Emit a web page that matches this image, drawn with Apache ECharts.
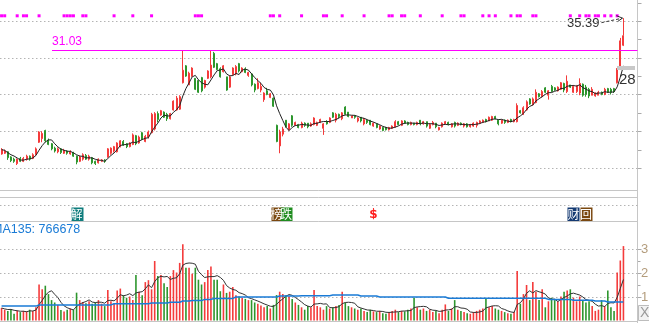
<!DOCTYPE html>
<html><head><meta charset="utf-8">
<script src="https://cdn.jsdelivr.net/npm/echarts@6/dist/echarts.min.js"></script>
<style>html,body{margin:0;padding:0;background:#fff;overflow:hidden}#c{width:649px;height:323px}</style>
</head><body><div id="c"></div>
<script>
// ---- data: [open, close, low, high] per day ----
const ohlc = [
[16.9,17.5,16.8,17.7],[17.0,17.3,16.9,17.5],[17.2,16.4,16.1,17.3],[16.5,16.0,15.8,16.6],[16.2,15.9,15.7,16.4],
[15.6,16.2,15.4,16.3],[16.3,15.9,15.8,16.5],[15.9,16.3,15.8,16.5],[16.2,16.6,16.0,16.8],[16.6,16.2,16.0,16.7],
[16.3,16.8,16.2,17.0],[16.8,17.6,16.7,17.8],[18.5,19.9,18.4,20.0],[19.0,19.7,18.5,20.0],[20.1,18.7,18.5,20.2],
[18.8,18.2,18.1,19.0],[18.3,17.6,17.4,18.4],[17.7,17.3,17.1,17.9],[17.2,17.6,17.0,17.8],[17.6,17.1,16.9,17.7],
[17.0,17.4,16.9,17.6],[17.3,17.0,16.8,17.4],[16.9,17.2,16.8,17.4],[17.1,16.6,16.5,17.2],[16.6,15.8,15.5,16.7],
[15.9,16.5,15.8,16.7],[16.2,16.8,16.0,17.0],[16.7,16.2,16.1,16.9],[16.2,16.6,16.0,16.8],[16.4,15.7,15.5,16.5],
[15.9,15.6,15.4,16.0],[15.7,16.2,15.6,16.3],[15.9,16.1,15.8,16.2],[16.1,15.9,15.7,16.2],[16.5,17.6,16.4,17.7],
[17.0,17.7,16.8,17.8],[17.3,17.9,17.1,18.0],[17.2,18.4,17.1,18.5],[18.0,18.7,17.8,18.8],[18.6,18.1,18.0,18.8],
[18.3,17.9,17.7,18.4],[17.9,18.4,17.8,18.5],[18.2,19.5,18.1,19.7],[19.4,18.3,18.1,19.5],[18.4,19.2,18.3,19.4],
[19.8,18.9,18.8,19.9],[18.6,19.3,18.5,19.5],[19.2,19.9,19.0,20.1],[19.8,22.3,19.7,22.5],[20.3,22.4,20.1,22.6],
[22.4,21.6,21.2,22.7],[22.2,22.8,22.1,22.9],[22.6,21.9,21.8,22.7],[22.3,21.7,21.4,22.5],[21.7,22.4,21.6,22.5],
[22.9,24.1,22.8,24.2],[22.9,24.5,22.8,24.8],[23.0,24.7,22.9,24.9],[26.6,28.3,26.5,31.03],[28.9,27.5,27.4,29.0],
[26.3,27.9,26.3,28.1],[27.5,28.6,27.4,28.7],[27.2,25.7,25.6,27.2],[26.9,25.3,25.2,27.0],[27.3,25.5,25.3,27.4],
[26.0,26.9,25.8,27.0],[27.2,28.2,27.1,28.3],[27.4,29.0,27.2,31.03],[30.6,28.7,28.6,30.8],[29.2,28.4,28.3,29.3],
[28.5,27.4,27.3,28.7],[28.1,28.9,28.0,29.0],[27.4,25.6,25.5,27.4],[26.0,27.4,25.9,27.6],[27.7,28.6,27.6,28.7],
[27.8,28.8,27.6,29.0],[29.2,28.2,28.0,29.3],[28.1,28.6,28.0,28.7],[28.5,28.0,27.9,28.7],[27.6,28.0,27.4,28.1],
[27.8,26.3,26.1,27.9],[26.4,25.6,25.3,26.5],[25.8,26.6,25.7,27.2],[25.6,26.1,25.3,26.6],[24.3,25.2,24.0,25.3],
[25.5,25.0,24.9,25.9],[24.6,25.1,24.5,25.2],[24.5,23.4,23.3,24.6],[20.8,18.6,18.5,20.9],[18.0,19.9,17.0,20.2],
[19.6,20.3,19.3,20.6],[21.5,20.6,20.5,21.5],[20.2,21.0,20.1,21.1],[22.1,20.8,20.6,22.2],[20.8,21.2,20.7,21.3],
[20.9,20.5,20.4,21.0],[20.5,21.1,20.4,21.3],[21.1,20.8,20.6,21.2],[21.1,20.6,20.4,21.1],[20.7,21.0,20.6,21.2],
[20.9,21.8,20.8,21.9],[20.8,21.2,20.7,21.3],[21.2,21.6,21.1,21.7],[20.4,21.0,19.5,21.1],[21.3,21.0,20.9,21.5],
[21.2,21.8,21.1,21.9],[22.5,21.9,21.8,22.6],[21.5,22.3,21.2,22.5],[22.3,22.0,21.8,22.4],[21.7,22.5,21.5,22.6],
[23.3,22.3,22.2,23.4],[22.6,22.0,21.9,22.6],[21.8,22.1,21.8,22.1],[22.1,21.9,21.7,22.2],[21.4,21.8,21.2,21.9],
[21.9,21.4,21.2,21.9],[21.0,21.6,20.8,21.8],[21.5,21.2,21.0,21.6],[21.5,20.9,20.8,21.5],[20.7,21.1,20.6,21.2],
[21.0,20.5,20.4,21.1],[20.3,20.7,20.2,20.8],[20.5,20.1,20.0,20.6],[20.5,20.2,20.1,20.6],[20.2,20.5,20.1,20.6],
[20.4,20.7,20.3,20.8],[20.6,21.3,20.5,21.5],[21.3,20.9,20.8,21.4],[20.8,21.4,20.7,21.5],[21.4,21.1,21.0,21.5],
[21.2,20.9,20.8,21.3],[20.9,21.2,20.8,21.3],[21.1,20.9,20.8,21.1],[20.9,21.2,20.8,21.3],[21.5,21.0,20.8,21.5],
[21.0,21.3,20.9,21.4],[21.3,20.7,20.5,21.3],[20.4,20.9,20.3,21.1],[20.9,21.2,20.8,21.4],[21.1,20.6,20.4,21.1],
[20.2,20.5,20.1,20.6],[20.6,21.1,20.5,21.2],[21.0,21.3,20.9,21.4],[21.2,20.9,20.8,21.3],[20.6,21.0,20.5,21.1],
[21.2,20.7,20.5,21.3],[20.8,21.1,20.7,21.2],[21.1,20.9,20.8,21.2],[20.7,21.0,20.5,21.1],[21.0,20.6,20.5,21.1],
[20.6,20.9,20.5,21.0],[20.7,21.1,20.6,21.2],[20.8,21.2,20.5,21.3],[21.1,21.4,21.0,21.5],[21.2,21.5,21.1,21.6],
[21.6,21.3,21.2,21.7],[21.4,21.9,21.4,22.0],[21.5,22.0,21.4,22.1],[22.0,21.7,21.6,22.1],[21.5,21.0,20.8,21.6],
[21.1,21.5,21.0,21.6],[21.5,21.2,21.0,21.6],[21.2,21.5,21.1,21.6],[21.6,21.3,21.2,21.7],[21.3,21.6,21.2,21.7],
[21.3,23.5,21.2,23.8],[22.8,22.5,22.4,22.9],[22.3,23.2,22.2,23.4],[22.9,24.0,22.8,24.2],[24.4,23.7,23.6,24.5],
[23.6,24.4,23.5,24.6],[23.9,25.3,23.8,25.7],[25.1,24.7,24.6,25.2],[24.7,25.4,24.6,25.6],[25.9,25.3,25.2,26.0],
[24.9,25.5,24.3,25.6],[26.1,25.4,25.3,26.3],[25.9,25.6,25.5,26.0],[25.5,26.0,25.4,26.1],[25.7,26.6,25.6,26.7],
[26.5,25.6,25.3,26.6],[25.4,26.8,25.2,27.6],[26.3,26.0,25.9,26.3],[25.3,26.1,25.2,26.3],[25.4,26.2,25.2,26.3],
[25.2,26.5,24.9,27.2],[26.4,24.9,24.7,26.5],[26.0,25.0,24.7,26.3],[25.7,24.8,24.5,25.9],[24.9,25.7,24.9,26.0],
[24.8,25.2,24.7,25.3],[24.9,25.3,24.9,25.5],[25.3,25.0,24.9,25.4],[25.0,25.7,24.9,25.9],[25.8,25.3,25.2,25.9],
[25.7,25.3,25.0,25.9],[25.8,25.4,25.2,25.9],[26.6,28.5,26.5,28.6],[28.8,32.3,28.7,32.7],[31.7,33.0,31.59,35.39]
];
// volume in millions of shares
const volumes = [
0.52,0.45,0.40,0.48,0.28,0.42,0.35,0.40,0.38,0.45,0.40,0.55,1.50,1.30,1.45,1.10,0.85,0.75,0.65,0.44,
0.37,0.45,0.50,0.45,1.16,0.85,0.77,0.72,0.80,0.70,0.75,0.85,0.70,0.60,1.27,0.80,0.72,1.25,1.33,1.05,
0.95,1.00,0.85,1.90,1.20,1.05,1.60,1.68,1.30,2.48,1.85,1.90,1.55,1.40,1.85,2.10,2.00,2.40,3.18,2.20,
2.20,1.95,2.20,1.70,1.50,1.60,2.10,2.25,1.70,1.70,1.22,1.50,1.15,1.20,1.40,1.05,1.00,0.95,0.90,0.85,
0.85,0.75,0.70,0.62,0.55,0.60,0.50,0.65,1.06,1.20,1.10,1.05,1.00,0.90,0.75,0.65,0.55,0.45,0.60,0.55,
1.27,0.60,0.55,0.45,0.60,0.50,0.55,0.60,0.65,1.20,0.75,0.60,0.55,0.50,0.45,0.50,0.40,0.35,0.45,0.38,
0.35,0.40,0.30,0.28,0.35,0.40,0.45,0.35,0.40,0.38,0.45,0.50,0.95,0.55,0.45,0.50,0.40,0.45,0.35,0.40,
0.30,0.45,0.67,0.40,0.50,0.85,0.45,0.40,0.35,0.30,0.28,0.35,0.40,0.45,0.50,0.93,0.55,0.60,0.50,0.45,
0.40,0.35,0.30,0.28,0.35,2.06,0.70,1.10,1.48,0.85,1.60,1.20,0.85,1.30,0.55,0.80,0.95,0.85,0.80,1.00,
1.20,1.25,1.30,0.95,0.80,1.00,0.85,0.75,0.80,0.60,0.40,0.45,0.85,0.60,1.25,0.55,0.40,2.00,2.50,3.10
];
// 135-day volume average (millions)
const ma135 = [
0.60,0.60,0.60,0.60,0.60,0.60,0.60,0.60,0.60,0.60,0.60,0.60,0.65,0.65,0.65,0.65,0.65,0.65,0.65,0.65,
0.65,0.65,0.65,0.65,0.65,0.65,0.65,0.65,0.65,0.65,0.65,0.65,0.65,0.65,0.65,0.65,0.70,0.70,0.70,0.70,
0.70,0.70,0.70,0.70,0.70,0.70,0.70,0.70,0.73,0.73,0.73,0.73,0.73,0.73,0.76,0.76,0.76,0.76,0.81,0.81,
0.81,0.83,0.83,0.83,0.83,0.88,0.88,0.88,0.92,0.92,0.92,0.92,0.92,0.92,0.92,0.98,0.98,0.98,0.98,0.98,
0.98,0.98,0.98,0.98,0.98,0.98,0.98,0.98,0.98,1.02,1.02,1.02,1.02,1.02,1.02,1.02,1.03,1.03,1.03,1.03,
1.03,1.03,1.03,1.03,1.03,1.03,1.06,1.06,1.06,1.06,1.06,1.06,1.06,1.06,1.06,1.02,1.02,1.02,1.02,1.02,
1.02,0.98,0.98,0.98,0.98,0.98,0.98,0.98,0.98,0.98,0.98,0.98,0.98,0.98,0.98,0.98,0.98,0.98,0.98,0.98,
0.98,0.98,0.98,0.93,0.93,0.93,0.93,0.93,0.93,0.93,0.93,0.93,0.93,0.93,0.93,0.93,0.93,0.93,0.93,0.93,
0.93,0.93,0.93,0.93,0.93,0.93,0.93,0.93,0.93,0.93,0.93,0.93,0.93,0.93,0.93,0.88,0.88,0.88,0.88,0.88,
0.88,0.88,0.88,0.84,0.84,0.84,0.84,0.84,0.84,0.84,0.81,0.81,0.81,0.81,0.77,0.77,0.77,0.77,0.77,0.766678
];
const markerDays = [0,1,5,7,8,12,20,21,22,23,26,27,36,42,48,62,63,64,86,87,89,96,103,104,109,116,124,125,128,129,134,141,147,148,154,156,158,163,165,166,170,171,182,185,187,188,190,191,193,195,197];
const events = [[24,'解'],[88,'榜'],[91,'跌'],[119,'$'],[183,'财'],[187,'回']];
const priceTicks = [15,20,25,30,35];
const priceMinorTicks = [15,17.5,20,22.5,25,27.5,30,32.5,35,37.5];
const volTicks = [1,2,3];
const volTickLabels = ['1','2','3'];
const refHigh = 31.03;
const lastHigh = 35.39;
const sideLabel = '28';
const maPeriod = 5;

// ---- styles ----
const UP = '#f43b3b', DOWN = '#2d962d';
const evStyle = {'解':{bg:'#0f7d7d',c:'#fff'},'榜':{bg:'#7a4810',c:'#fff'},'跌':{bg:'#1f8c1f',c:'#fff'},'$':{bg:null,c:'#ff1e1e'},'财':{bg:'#153a72',c:'#fff'},'回':{bg:'#7a4810',c:'#fff'}};

function movingAvg(arr, n){
  return arr.map((_, i) => { const s = Math.max(0, i-n+1); let t = 0; for (let k=s;k<=i;k++) t += arr[k]; return +(t/(i-s+1)).toFixed(4); });
}
const closes = ohlc.map(d => d[1]);
const priceMA = movingAvg(closes, maPeriod);
const volMA = movingAvg(volumes, maPeriod);
const cats = ohlc.map((_, i) => String(i));

const chart = echarts.init(document.getElementById('c'), null, {renderer:'canvas'});
chart.setOption({
  animation:false,
  backgroundColor:'#ffffff',
  grid:[{left:0, top:0, width:625, height:190},{left:0, top:221, width:625, height:99.5}],
  xAxis:[{type:'category', gridIndex:0, data:cats, show:false},{type:'category', gridIndex:1, data:cats, show:false}],
  yAxis:[{type:'value', gridIndex:0, min:12, max:37.86, show:false, splitLine:{show:false}},
         {type:'value', gridIndex:1, min:0, max:4.146, show:false, splitLine:{show:false}}],
  series:[
    {type:'candlestick', xAxisIndex:0, yAxisIndex:0, data:ohlc, barWidth:1.4, clip:false,
     itemStyle:{color:UP, color0:DOWN, borderColor:UP, borderColor0:DOWN, borderWidth:1}},
    {type:'line', xAxisIndex:0, yAxisIndex:0, data:priceMA, symbol:'none', lineStyle:{color:'#222', width:1}, z:5},
    {type:'bar', xAxisIndex:1, yAxisIndex:1, barWidth:1.6,
     data:volumes.map((v,i)=>({value:v, itemStyle:{color: ohlc[i][1]>=ohlc[i][0]?UP:DOWN}}))},
    {type:'line', xAxisIndex:1, yAxisIndex:1, data:volMA, symbol:'none', lineStyle:{color:'#333', width:1}, z:5},
    {type:'line', xAxisIndex:1, yAxisIndex:1, data:ma135, symbol:'none', step:'middle', lineStyle:{color:'#1a7bd6', width:1.5}, z:6}
  ]
});

const P = (g, i, v) => chart.convertToPixel({gridIndex:g}, [i, v]);
const RX = 637.5;
const g = [];
const hline = (y, x1, x2, stroke, dash) => g.push({type:'line', silent:true, z:1, shape:{x1:x1, y1:y, x2:x2, y2:y}, style:{stroke:stroke, lineWidth:1, lineDash:dash||null}});
// price grid dotted lines
priceTicks.forEach(v => { const y = Math.round(P(0,0,v)[1]) + 0.5; hline(y, 0, RX, '#b4b4b4', [1.5,2.5]); });
priceMinorTicks.forEach(v => { const y = Math.round(P(0,0,v)[1]) + 0.5; if (y>0 && y<190) g.push({type:'line', silent:true, shape:{x1:RX, y1:y, x2:RX+4, y2:y}, style:{stroke:'#aaa', lineWidth:1}}); });
// volume grid dotted lines
volTicks.forEach((v, k) => {
  const y = Math.round(P(1,0,v)[1]) + 0.5;
  hline(y, 0, RX, '#b4b4b4', [1.5,2.5]);
  g.push({type:'line', silent:true, shape:{x1:RX, y1:y, x2:RX+4, y2:y}, style:{stroke:'#aaa', lineWidth:1}});
  g.push({type:'text', silent:true, x:641, y:y, style:{text:volTickLabels[k], fill:'#b39c7c', font:'13px "Liberation Sans", Arial', verticalAlign:'middle'}});
});
[0.5,1.5,2.5].forEach(v => { const y = Math.round(P(1,0,v)[1]) + 0.5; g.push({type:'line', silent:true, shape:{x1:RX, y1:y, x2:RX+3, y2:y}, style:{stroke:'#aaa', lineWidth:1}}); });
// panel frame lines
hline(190.5, 0, RX, '#c6c6c6');
hline(197.5, 0, RX, '#c6c6c6');
hline(205.5, 0, RX, '#b4b4b4', [1.5,2.5]);
hline(221.5, 0, RX, '#c6c6c6');
hline(321.5, 0, RX, '#c6c6c6');
g.push({type:'line', silent:true, shape:{x1:RX, y1:0, x2:RX, y2:323}, style:{stroke:'#c6c6c6', lineWidth:1}});
// reference high line
const yRef = Math.round(P(0,0,refHigh)[1]) + 0.5;
g.push({type:'line', silent:true, z:10, shape:{x1:52, y1:yRef, x2:RX, y2:yRef}, style:{stroke:'#ff00ff', lineWidth:1}});
g.push({type:'text', silent:true, z:10, x:52, y:yRef-3, style:{text:refHigh.toFixed(2), fill:'#ff00ff', font:'12px "Liberation Sans", Arial', verticalAlign:'bottom'}});
// event markers strip at top
markerDays.forEach(i => { const x = P(0,i,20)[0]; g.push({type:'rect', silent:true, shape:{x:x-1.5, y:14.3, width:3, height:3}, style:{fill:'#ff00ff'}}); });
// last high label with dashed arrow
const tip = P(0, ohlc.length-1, lastHigh);
g.push({type:'text', silent:true, z:10, x:tip[0]-24, y:tip[1]+5, style:{text:lastHigh.toFixed(2), fill:'#333', font:'13px "Liberation Sans", Arial', align:'right', verticalAlign:'middle'}});
g.push({type:'line', silent:true, z:10, shape:{x1:tip[0]-22, y1:tip[1]+4.5, x2:tip[0]-1, y2:tip[1]}, style:{stroke:'#333', lineWidth:1, lineDash:[3,2]}});
g.push({type:'polyline', silent:true, z:10, shape:{points:[[tip[0]-7,tip[1]-2.5],[tip[0]-1,tip[1]],[tip[0]-6,tip[1]+3.5]]}, style:{stroke:'#333', lineWidth:1, fill:null}});
// side label box
g.push({type:'rect', silent:true, z:9, shape:{x:617, y:66, width:18, height:4}, style:{fill:'#c8c8c8'}});
g.push({type:'text', silent:true, z:11, x:619, y:80, style:{text:sideLabel, fill:'#333', font:'15px "Liberation Sans", Arial', verticalAlign:'middle'}});
// event icons
events.forEach(([i, t]) => {
  const x = P(0,i,20)[0]; const s = evStyle[t];
  if (s.bg) g.push({type:'rect', silent:true, z:10, shape:{x:Math.round(x-6)+0.5, y:207.5, width:12, height:13.5}, style:{fill:s.bg}});
  g.push({type:'text', silent:true, z:11, x:x, y:214.5, style:{text:t, fill:s.c, font:(t==='$'?'bold 12px "DejaVu Sans"':'12px "Noto Sans CJK SC"'), align:'center', verticalAlign:'middle'}});
});
// MA135 readout
g.push({type:'text', silent:true, z:10, x:-8, y:229.5, style:{text:'MA135: ' + Math.round(ma135[ma135.length-1]*1e6), fill:'#1a7bd6', font:'12.5px "Liberation Sans", Arial', verticalAlign:'middle'}});
// X1 box
g.push({type:'rect', silent:true, shape:{x:638.5, y:305.5, width:12, height:15}, style:{fill:'#f2f2f2', stroke:'#bdbdbd', lineWidth:1}});
g.push({type:'text', silent:true, x:640, y:313, style:{text:'X1', fill:'#9a9a9a', font:'14px "Liberation Sans", Arial', verticalAlign:'middle'}});
chart.setOption({graphic:g});
</script>
</body></html>
